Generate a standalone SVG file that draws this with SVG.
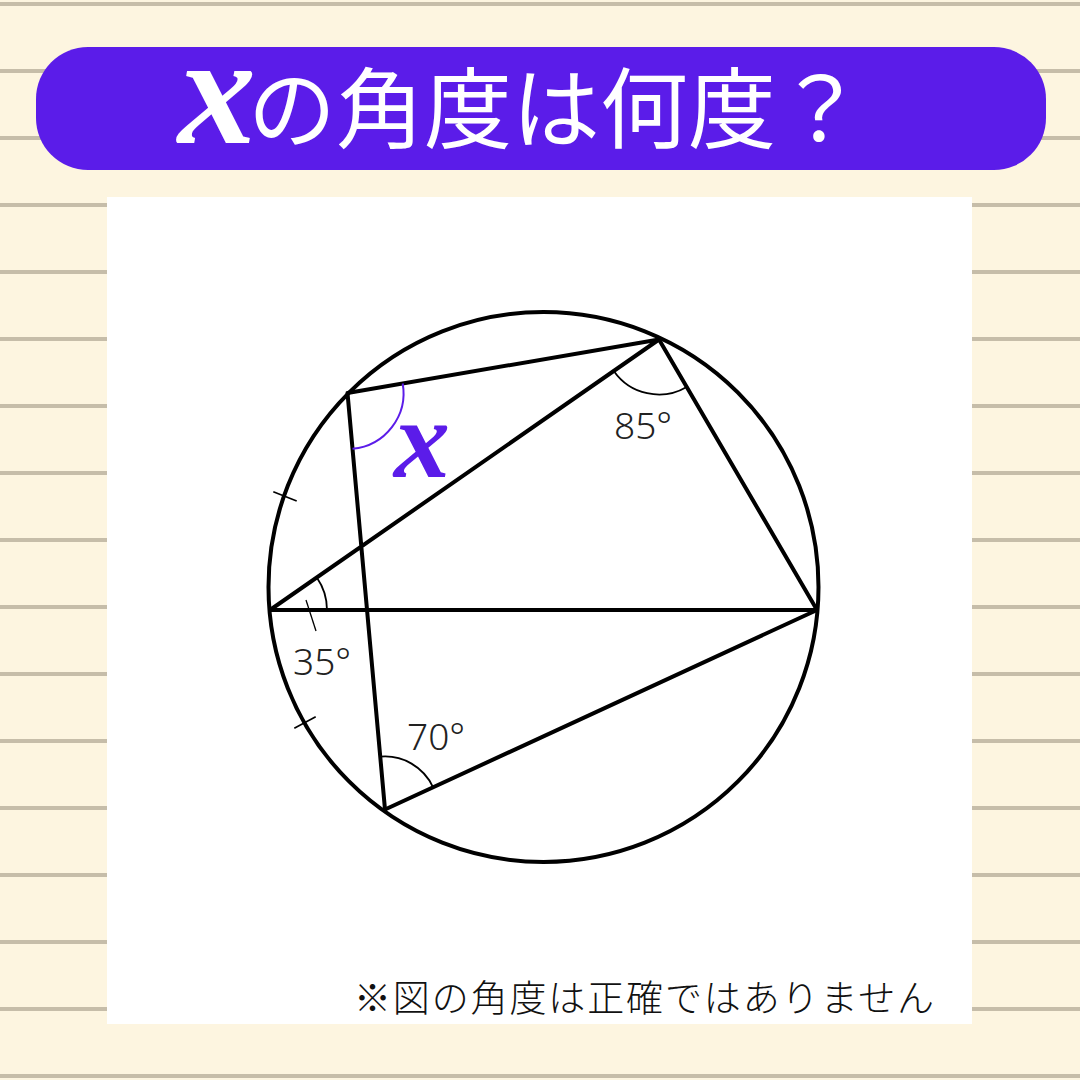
<svg xmlns="http://www.w3.org/2000/svg" width="1080" height="1080" viewBox="0 0 1080 1080">
<defs>
<style>
.stripe{stroke:#c6bda9;stroke-width:4}
.geo{fill:none;stroke:#000;stroke-width:4;stroke-linecap:round;stroke-linejoin:round}
.arc{fill:none;stroke:#000;stroke-width:1.8}
.num{font-family:"Noto Sans","Open Sans",sans-serif;font-weight:300;font-size:37px;fill:#222}
.chi{font-family:"Liberation Serif","DejaVu Serif",serif;font-style:italic;font-weight:bold}
</style>
</defs>
<rect width="1080" height="1080" fill="#fdf5e0"/>
<g id="stripes">
<line class="stripe" x1="0" y1="4" x2="1080" y2="4"/>
<line class="stripe" x1="0" y1="71" x2="1080" y2="71"/>
<line class="stripe" x1="0" y1="138" x2="1080" y2="138"/>
<line class="stripe" x1="0" y1="205" x2="1080" y2="205"/>
<line class="stripe" x1="0" y1="272" x2="1080" y2="272"/>
<line class="stripe" x1="0" y1="339" x2="1080" y2="339"/>
<line class="stripe" x1="0" y1="406" x2="1080" y2="406"/>
<line class="stripe" x1="0" y1="473" x2="1080" y2="473"/>
<line class="stripe" x1="0" y1="540" x2="1080" y2="540"/>
<line class="stripe" x1="0" y1="607" x2="1080" y2="607"/>
<line class="stripe" x1="0" y1="674" x2="1080" y2="674"/>
<line class="stripe" x1="0" y1="741" x2="1080" y2="741"/>
<line class="stripe" x1="0" y1="808" x2="1080" y2="808"/>
<line class="stripe" x1="0" y1="875" x2="1080" y2="875"/>
<line class="stripe" x1="0" y1="942" x2="1080" y2="942"/>
<line class="stripe" x1="0" y1="1009" x2="1080" y2="1009"/>
<line class="stripe" x1="0" y1="1076" x2="1080" y2="1076"/>
</g>
<g id="title">
<rect x="36" y="47" width="1010" height="123" rx="52" ry="52" fill="#5b1ce9"/>
<text class="chi" x="178" y="143" font-size="156" fill="#ffffff">x</text>
<text x="248" y="141" font-family="'Noto Sans CJK JP','Noto Sans',sans-serif" font-size="88" fill="#ffffff">の角度は何度？</text>
</g>
<rect id="panel" x="107" y="197" width="865" height="827" fill="#ffffff"/>
<g id="figure">
<circle class="geo" cx="543.5" cy="587" r="275"/>
<polyline class="geo" points="385,809.5 347.5,393 659,339.5 817,610 270,610 659,339.5"/>
<polyline class="geo" points="385,809.5 817,610"/>
</g>
<g id="marks">
<path class="arc" d="M686.7 387 A55 55 0 0 1 613.8 370.9"/>
<path class="arc" d="M316.8 577.5 A57 57 0 0 1 327 610"/>
<path class="arc" d="M380.2 756.7 A53 53 0 0 1 433.1 787.3"/>
<path d="M402.7 383.5 A56 56 0 0 1 352.5 448.8" fill="none" stroke="#5b1ce9" stroke-width="2"/>
<line x1="306" y1="600" x2="316" y2="631" stroke="#000" stroke-width="1.3"/>
<line x1="273.3" y1="491.7" x2="296.7" y2="501" stroke="#000" stroke-width="1.6"/>
<line x1="294.3" y1="728.3" x2="315.7" y2="716.7" stroke="#000" stroke-width="1.6"/>
</g>
<g id="labels">
<text class="num" x="614" y="439">85°</text>
<text class="num" x="293" y="675">35°</text>
<text class="num" x="407" y="750">70°</text>
<text class="chi" x="394" y="477" font-size="112" fill="#5b1ce9">x</text>
</g>
<text x="354" y="1012" font-family="'Noto Sans CJK JP',sans-serif" font-weight="300" font-size="37" textLength="580" fill="#111">※図の角度は正確ではありません</text>
</svg>
